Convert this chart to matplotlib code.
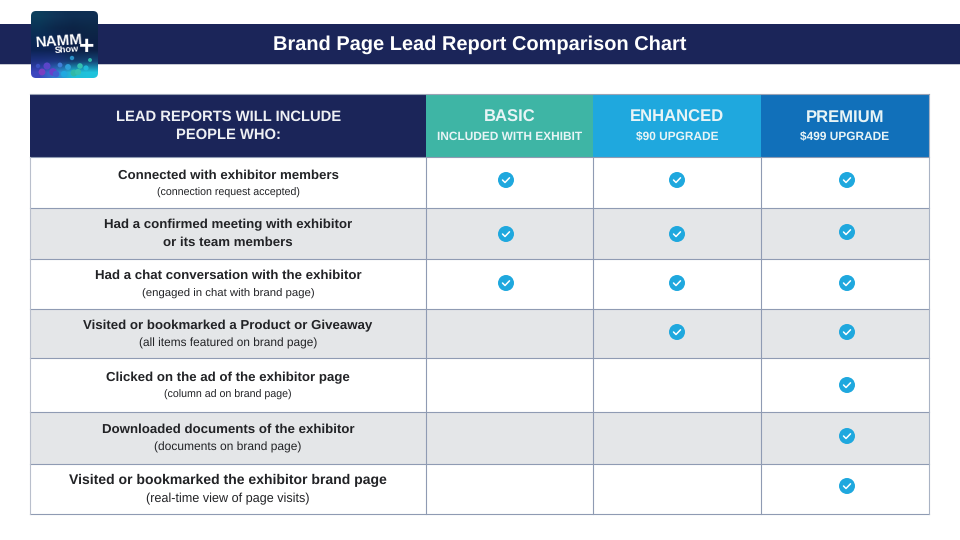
import matplotlib
matplotlib.use("Agg")
import matplotlib.pyplot as plt
import numpy as np
from matplotlib.patches import Circle, FancyBboxPatch, Rectangle

plt.rcParams["font.family"] = ["Liberation Sans", "DejaVu Sans"]
plt.rcParams["text.hinting"] = "no_hinting"

NAVY = "#1b2559"
TEAL = "#3eb5a5"
SKY = "#1fa8de"
BLUE = "#1170ba"
GREY = "#e4e6e8"
LINE = "#8f9bb3"
INK = "#222326"

title = "Brand Page Lead Report Comparison Chart"
corner_lines = ["LEAD REPORTS WILL INCLUDE", "PEOPLE WHO:"]
plans = ["BASIC", "ENHANCED", "PREMIUM"]
plan_notes = ["INCLUDED WITH EXHIBIT", "$90 UPGRADE", "$499 UPGRADE"]
plan_colors = [TEAL, SKY, BLUE]

row_main = [
    "Connected with exhibitor members",
    "Had a confirmed meeting with exhibitor",
    "Had a chat conversation with the exhibitor",
    "Visited or bookmarked a Product or Giveaway",
    "Clicked on the ad of the exhibitor page",
    "Downloaded documents of the exhibitor",
    "Visited or bookmarked the exhibitor brand page",
]
row_sub = [
    "(connection request accepted)",
    "or its team members",
    "(engaged in chat with brand page)",
    "(all items featured on brand page)",
    "(column ad on brand page)",
    "(documents on brand page)",
    "(real-time view of page visits)",
]
# which plans include each row: basic, enhanced, premium
included = [
    [1, 1, 1],
    [1, 1, 1],
    [1, 1, 1],
    [0, 1, 1],
    [0, 0, 1],
    [0, 0, 1],
    [0, 0, 1],
]

# layout in reference pixels
col_x = [30, 426, 593, 761, 929]
row_y = [94, 157, 208, 259, 309, 358, 412, 464, 514]
check_x = [506, 677, 847]
check_y = [180, 234, 283, 332, 385, 436, 486]
main_y = [176, 224.5, 276, 326, 378, 430, 480.5]
sub_y = [192.5, 243, 293.5, 343.5, 394.5, 447.5, 499]
sub_size = [7.7, 9.55, 8.2, 8.55, 7.7, 8.65, 9.1]
main_size = [9.55, 9.55, 9.55, 9.55, 9.55, 9.55, 10.05]

# logo splatter
dot_x = [47, 53, 60, 68, 74, 80, 86, 90, 72, 78, 42, 38, 64, 56]
dot_y = [66, 72, 65, 67, 73, 66, 68, 60, 58, 72, 72, 66, 74, 74]
dot_size = [26, 30, 12, 18, 24, 16, 14, 8, 10, 20, 24, 10, 20, 22]
dot_color = ["#5a45c8", "#6a3fc8", "#3f7fd8", "#2f9fd8", "#2fb8a8", "#35c0b0", "#20b8d8", "#2fb8a8",
             "#2a8fc8", "#35c0b0", "#7a3fc0", "#3a50c0", "#20a8e0", "#4060d0"]

fig = plt.figure(figsize=(9.6, 5.4), dpi=100)
ax = fig.add_axes([0, 0, 1, 1])
ax.set_xlim(0, 960)
ax.set_ylim(540, 0)
ax.axis("off")


def rect(x0, y0, x1, y1, color, z=1):
    ax.add_patch(Rectangle((x0, y0), x1 - x0, y1 - y0, fc=color, ec="none", zorder=z))


# banner
rect(0, 24, 960, 64, NAVY)
ax.plot([0, 960], [64.2, 64.2], color="#c4c7d0", lw=0.7, zorder=1)
ax.text(480, 45, title, color="white", fontsize=14.45, fontweight="bold", ha="center", va="center", zorder=3)

# header row
rect(col_x[0], row_y[0], col_x[1], row_y[1], NAVY)
for i in range(3):
    rect(col_x[i + 1], row_y[0], col_x[i + 2], row_y[1], plan_colors[i])
    cx = (col_x[i + 1] + col_x[i + 2]) / 2
    ax.text(cx, 117, plans[i], color="#e8f4f6", fontsize=12, fontweight="bold", ha="center", va="center", zorder=3)
    ax.text(cx, 137, plan_notes[i], color="#e8f4f6", fontsize=8.6, fontweight="bold", ha="center", va="center", zorder=3)
ax.text(228.5, 117, corner_lines[0], color="#eef0f4", fontsize=10.6, fontweight="bold", ha="center", va="center", zorder=3)
ax.text(228.5, 135, corner_lines[1], color="#eef0f4", fontsize=10.6, fontweight="bold", ha="center", va="center", zorder=3)

# body rows
for r in range(len(row_main)):
    if r % 2 == 1:
        rect(col_x[0], row_y[r + 1], col_x[-1], row_y[r + 2], GREY)
    second_bold = r == 1
    ax.text(228, main_y[r], row_main[r], color=INK, fontsize=main_size[r], fontweight="bold", ha="center", va="center", zorder=3)
    ax.text(228, sub_y[r], row_sub[r], color=INK, fontsize=sub_size[r],
            fontweight="bold" if second_bold else "normal", ha="center", va="center", zorder=3)
    for c in range(3):
        if included[r][c]:
            x, y = check_x[c], check_y[r]
            if r == 1 and c == 2:
                y -= 2
            ax.add_patch(Circle((x, y), 8, fc=SKY, ec="none", zorder=3))
            ax.plot([x - 3.5, x - 1, x + 3.5], [y, y + 2.5, y - 2.2], color="white", lw=1.1, zorder=4,
                    solid_capstyle="round", solid_joinstyle="round")

# grid lines, half a pixel up so they land on the same pixel rows
for y in row_y[1:]:
    ax.plot([col_x[0], col_x[-1]], [y - 0.5, y - 0.5], color=LINE, lw=0.8, zorder=2)
for x in col_x[1:-1]:
    ax.plot([x - 0.5, x - 0.5], [row_y[1], row_y[-1]], color=LINE, lw=0.8, zorder=2)
ax.plot([col_x[0], col_x[0]], [row_y[1], row_y[-1]], color="#b9bfcc", lw=0.8, zorder=2)
ax.plot([col_x[-1], col_x[-1]], [row_y[0], row_y[-1]], color="#a9b3c4", lw=0.8, zorder=2)
ax.plot([col_x[0], col_x[-1]], [row_y[0] - 0.5, row_y[0] - 0.5], color="#9aa3b5", lw=0.8, zorder=2)

# logo
logo_colors = np.array([
    [[12, 62, 92], [16, 52, 88], [14, 46, 82], [15, 46, 82]],
    [[10, 50, 85], [12, 40, 75], [12, 36, 70], [12, 40, 72]],
    [[10, 42, 85], [12, 36, 80], [12, 32, 72], [12, 34, 70]],
    [[12, 36, 84], [14, 34, 84], [12, 32, 72], [12, 32, 70]],
    [[30, 50, 130], [30, 56, 130], [20, 60, 110], [20, 70, 120]],
    [[60, 70, 190], [50, 130, 210], [30, 190, 215], [30, 195, 220]],
], dtype=float) / 255
clip = FancyBboxPatch((34, 14), 61, 61, boxstyle="round,pad=3,rounding_size=5", fc="none", ec="none", zorder=3)
ax.add_patch(clip)
im = ax.imshow(logo_colors, extent=(31, 98, 78, 11), interpolation="bilinear", aspect="auto", zorder=3)
im.set_clip_path(clip)
dots = ax.scatter(dot_x, dot_y, s=dot_size, c=dot_color, linewidths=0, zorder=4)
dots.set_clip_path(clip)
ax.set_xlim(0, 960)
ax.set_ylim(540, 0)
ax.text(35.5, 41, "NAMM", color="white", fontsize=11, fontweight="bold", ha="left", va="center", zorder=5, rotation=4)
ax.text(54, 50, "Show", color="white", fontsize=6.6, fontweight="bold", ha="left", va="center", zorder=5, rotation=4)
ax.text(87, 47, "+", color="white", fontsize=19, fontweight="bold", ha="center", va="center", zorder=5)

fig.savefig("out.png", dpi=100)
